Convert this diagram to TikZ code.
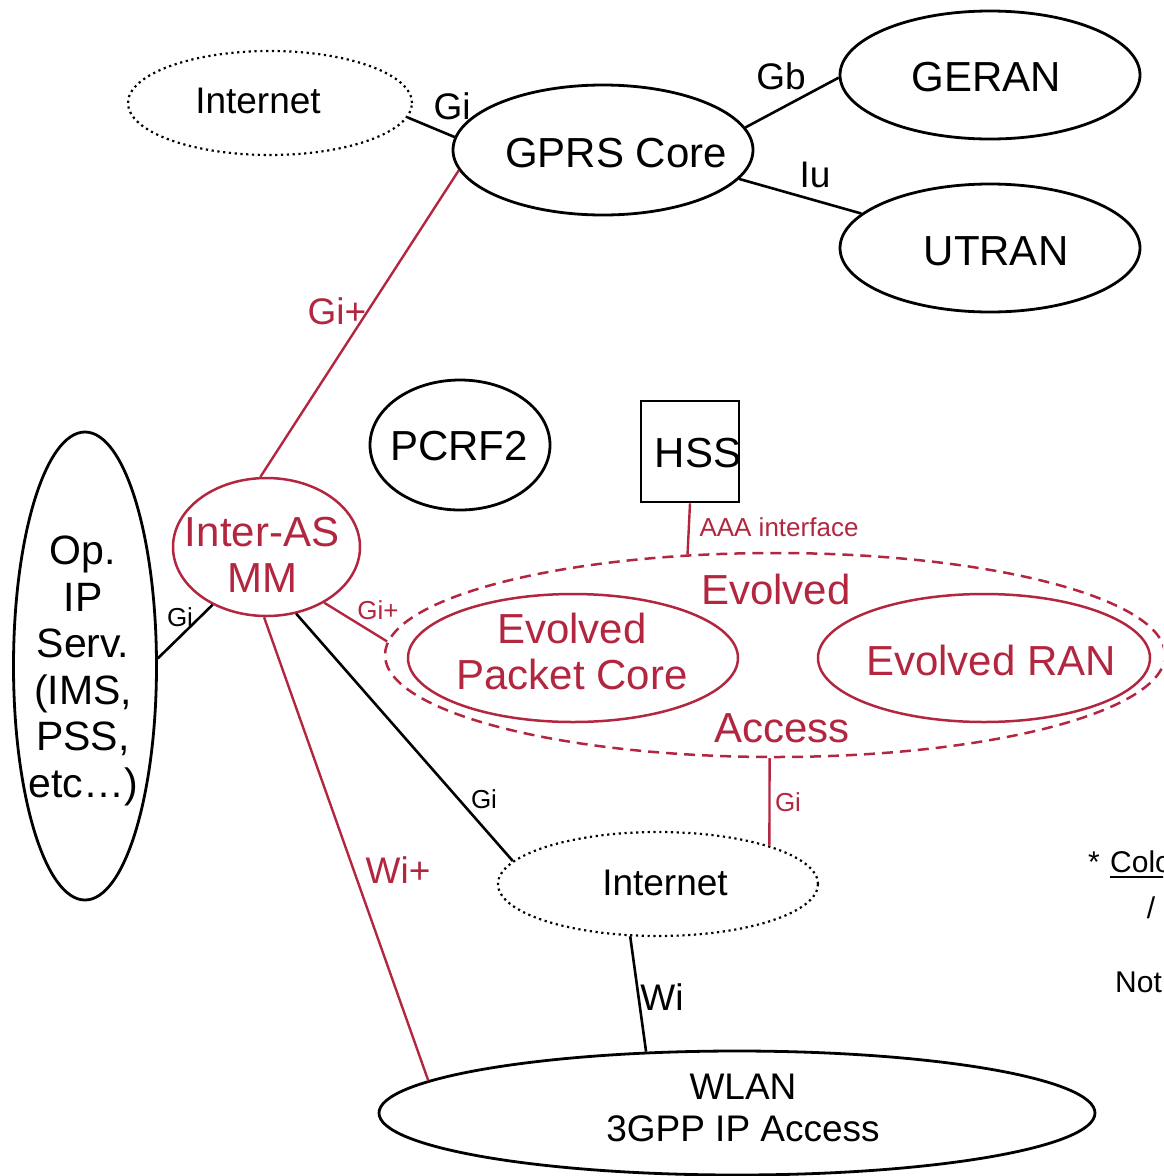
\documentclass[tikz,border=0pt]{standalone}
\usepackage{fontspec}
\setmainfont{Liberation Sans}
\usetikzlibrary{shapes.geometric}
\definecolor{crim}{RGB}{179,38,64}
\begin{document}
\begin{tikzpicture}[x=1pt,y=-1pt,
  shp/.style={ellipse, draw, line width=2.8pt, inner sep=0pt},
  rshp/.style={ellipse, draw=crim, line width=2.5pt, inner sep=0pt},
  dots/.style={line width=2.2pt, dash pattern=on 2.2pt off 3.6pt},
  big/.style={inner sep=0pt, font=\fontsize{42}{46}\selectfont, align=center},
  mid/.style={inner sep=0pt, font=\fontsize{37}{42}\selectfont, align=center},
  sml/.style={inner sep=0pt, font=\fontsize{26}{30}\selectfont},
  note/.style={inner sep=0pt, font=\fontsize{30}{34}\selectfont},
  conn/.style={line width=2.6pt},
  rconn/.style={line width=2.4pt, draw=crim},
]
\useasboundingbox (0,0) rectangle (1163,1176);
\clip (0,0) rectangle (1163,1176);

% shapes
\node[shp, dots, minimum width=284pt, minimum height=104pt] (inet1) at (270,103) {};
\node[shp, minimum width=300pt, minimum height=130pt] (gprs) at (603,150) {};
\node[shp, minimum width=300pt, minimum height=128pt] (geran) at (990,75) {};
\node[shp, minimum width=300pt, minimum height=128pt] (utran) at (990,248) {};
\node[shp, minimum width=180pt, minimum height=130pt] (pcrf) at (460,445) {};
\node[draw, rectangle, line width=2.8pt, minimum width=98pt, minimum height=101pt, inner sep=0pt] (hss) at (690,451.5) {};
\node[rshp, minimum width=187pt, minimum height=138pt] (iam) at (266.5,547) {};
\node[shp, minimum width=143pt, minimum height=468pt] (op) at (85,666) {};
\node[rshp, dash pattern=on 11pt off 7pt, minimum width=780pt, minimum height=204pt] (evo) at (775,655) {};
\node[rshp, minimum width=330pt, minimum height=128pt] (epc) at (573,658) {};
\node[rshp, minimum width=332pt, minimum height=128pt] (eran) at (984,658) {};
\node[shp, dots, minimum width=320pt, minimum height=104pt] (inet2) at (658,884) {};
\node[shp, minimum width=716pt, minimum height=124pt] (wlan) at (737,1113) {};

% texts in shapes
\node[mid] (tinet1) at (258,101) {Internet};
\node[big] (tgprs) at (616,153) {GPRS Core};
\node[big] (tgeran) at (986,77) {GERAN};
\node[big] (tutran) at (996,251) {UTRAN};
\node[big] (tpcrf) at (459,446) {PCRF2};
\node[big] (thss) at (698,453) {HSS};
\node[big, text=crim] (tiam) at (262,555) {Inter-AS\\MM};
\node[big, font=\fontsize{41}{46.5}\selectfont] (top) at (83,671) {Op.\\IP\\Serv.\\(IMS,\\PSS,\\etc…)};
\node[big, text=crim] (tepc) at (572,651) {Evolved\\Packet Core};
\node[big, text=crim] (teran) at (991,660) {Evolved RAN};
\node[big, text=crim] (tevo1) at (776,589) {Evolved};
\node[big, text=crim] (tevo2) at (782,728) {Access};
\node[mid] (tinet2) at (665,883) {Internet};
\node[mid] (twlan) at (743,1108) {WLAN\\3GPP IP Access};

% connectors
\draw[conn] (inet1.-6) -- (gprs.175);
\draw[conn] (gprs.9) -- (geran.181);
\draw[conn] (gprs.-12) -- (utran.165);
\draw[rconn] (gprs.188) -- (iam.95);
\draw[rconn] (hss.south) -- (evo.131);
\draw[conn] (iam.227) -- (op.6);
\draw[rconn] (iam.-44) -- (evo.178);
\draw[conn] (iam.-66) -- (inet2.171);
\draw[rconn] (iam.268) -- (wlan.174);
\draw[rconn] (evo.267) -- (inet2.19);
\draw[conn] (inet2.242) -- (wlan.146);

% connector labels
\node[mid] (lgi1) at (452,106) {Gi};
\node[mid] (lgb) at (781,76) {Gb};
\node[mid] (liu) at (815,175) {Iu};
\node[mid, text=crim] (lgip) at (337,311) {Gi+};
\node[sml, text=crim] (laaa) at (779,527) {AAA interface};
\node[sml] (lgi2) at (180,617) {Gi};
\node[sml, text=crim] (lgip2) at (378,610) {Gi+};
\node[sml] (lgi3) at (484,799) {Gi};
\node[mid, text=crim] (lwip) at (398,870) {Wi+};
\node[sml, text=crim] (lgi4) at (788,802) {Gi};
\node[mid] (lwi) at (662,997) {Wi};

% notes at right edge
\node[note, anchor=base west] (star) at (1088,872) {*};
\node[note, anchor=base west] (colo) at (1110,872) {Colo};
\draw[line width=1.6pt] ([yshift=-5pt]colo.base west) -- ([yshift=-5pt]colo.base east);
\node[note] (slash) at (1151,908) {/};
\node[note, anchor=base west] (nott) at (1115,992) {Not};
\end{tikzpicture}
\end{document}
